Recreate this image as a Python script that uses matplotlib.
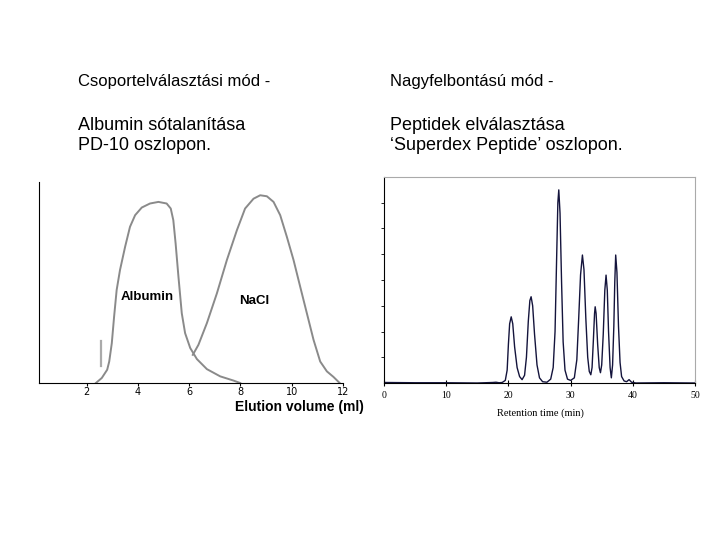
import matplotlib
matplotlib.use("Agg")
import matplotlib.pyplot as plt

# --- left panel: PD-10 desalting (elution volume, ml vs. relative signal)
albumin_x = [2.36, 2.59, 2.80, 2.88, 2.98, 3.07, 3.17, 3.30, 3.50, 3.69, 3.89,
             4.15, 4.47, 4.80, 5.12, 5.28, 5.38, 5.47, 5.58, 5.71, 5.84, 6.04,
             6.30, 6.69, 7.21, 7.73, 7.99]
albumin_y = [0.0, 2.5, 6.6, 10.7, 19.8, 33.0, 46.3, 56.2, 67.8, 77.7, 83.5,
             87.3, 89.3, 90.1, 89.3, 86.8, 81.0, 69.4, 52.9, 34.7, 24.8, 17.4,
             11.9, 6.9, 3.3, 1.2, 0.0]
nacl_x = [6.14, 6.36, 6.69, 7.08, 7.47, 7.86, 8.18, 8.51, 8.77, 9.03, 9.29,
          9.55, 9.81, 10.07, 10.33, 10.59, 10.85, 11.11, 11.37, 11.63, 11.87]
nacl_y = [14.0, 19.0, 29.8, 44.6, 61.2, 76.0, 86.8, 91.7, 93.4, 92.9, 90.1,
          83.5, 72.7, 61.2, 47.9, 34.7, 21.5, 10.7, 5.8, 3.0, 0.0]
mark_x = [2.55, 2.55]
mark_y = [8.3, 20.7]
left_ticks = [2, 4, 6, 8, 10, 12]

# --- right panel: Superdex Peptide (retention time, min vs. absorbance)
ret_time = [0.0, 5.0, 10.0, 15.0, 17.5, 18.0, 18.5, 19.0, 19.5, 19.8, 20.0,
            20.2, 20.45, 20.7, 21.0, 21.4, 21.8, 22.2, 22.6, 22.9, 23.2, 23.45,
            23.65, 23.9, 24.2, 24.6, 25.0, 25.5, 26.2, 26.8, 27.2, 27.5, 27.75,
            27.95, 28.1, 28.3, 28.55, 28.8, 29.1, 29.5, 30.0, 30.6, 31.0, 31.3,
            31.6, 31.9, 32.15, 32.45, 32.75, 33.0, 33.25, 33.45, 33.65, 33.85,
            33.95, 34.1, 34.35, 34.6, 34.8, 35.0, 35.25, 35.5, 35.7, 35.9, 36.1,
            36.35, 36.55, 36.75, 36.95, 37.1, 37.25, 37.45, 37.7, 37.95, 38.2,
            38.6, 39.0, 39.4, 39.8, 40.5, 45.0, 50.0]
signal = [0.02, 0.01, 0.01, 0.0, 0.02, 0.03, 0.01, 0.02, 0.1, 0.5, 1.5,
          2.3, 2.57, 2.3, 1.4, 0.6, 0.25, 0.13, 0.3, 1.0, 2.4, 3.2,
          3.35, 3.0, 1.9, 0.7, 0.2, 0.05, 0.03, 0.15, 0.6, 2.0, 4.8,
          7.0, 7.5, 6.6, 3.9, 1.6, 0.5, 0.15, 0.1, 0.2, 0.9, 2.5,
          4.2, 4.97, 4.4, 2.5, 1.0, 0.45, 0.32, 0.6, 1.6, 2.7,
          2.96, 2.7, 1.5, 0.6, 0.4, 0.7, 1.9, 3.6, 4.19, 3.6, 2.0,
          0.6, 0.2, 0.7, 2.2, 3.9, 4.97, 4.3, 2.2, 0.8, 0.25,
          0.08, 0.05, 0.13, 0.03, 0.0, 0.01, 0.0]
right_xticks = [0, 10, 20, 30, 40, 50]
right_yticks = [1, 2, 3, 4, 5, 6, 7]

fig = plt.figure(figsize=(7.2, 5.4), dpi=100)
sans = "Liberation Sans"
serif = "Liberation Serif"

# header texts
mode_fs = 12
desc_fs = 13
fig.text(78 / 720, 1 - 86 / 540, "Csoportelválasztási mód -", fontsize=mode_fs, family=sans)
fig.text(78 / 720, 1 - 129.5 / 540, "Albumin sótalanítása", fontsize=desc_fs, family=sans)
fig.text(78 / 720, 1 - 150 / 540, "PD-10 oszlopon.", fontsize=desc_fs, family=sans)
fig.text(390 / 720, 1 - 86 / 540, "Nagyfelbontású mód -", fontsize=mode_fs, family=sans)
fig.text(390 / 720, 1 - 129.5 / 540, "Peptidek elválasztása", fontsize=desc_fs, family=sans)
fig.text(390 / 720, 1 - 150 / 540, "\u2018Superdex Peptide\u2019 oszlopon.", fontsize=desc_fs, family=sans)

# left chart
ax1 = fig.add_axes([39 / 720, 1 - 383 / 540, 304 / 720, 201 / 540])
ax1.plot(albumin_x, albumin_y, color="#8a8a8a", lw=1.4)
ax1.plot(nacl_x, nacl_y, color="#8a8a8a", lw=1.4)
ax1.plot(mark_x, mark_y, color="#aaaaaa", lw=1.6)
ax1.set_xlim(0.14, 12)
ax1.set_ylim(0, 100)
ax1.spines["top"].set_visible(False)
ax1.spines["right"].set_visible(False)
ax1.set_yticks([])
ax1.set_xticks(left_ticks)
ax1.tick_params(axis="x", length=2, pad=1, labelsize=7)
ax1.text(4.37, 43, "Albumin", fontsize=9.5, fontweight="bold", family=sans,
         ha="center", va="center")
ax1.text(8.53, 40.8, "NaCl", fontsize=9.5, fontweight="bold", family=sans,
         ha="center", va="center")
fig.text(364 / 720, 1 - 411.5 / 540, "Elution volume (ml)", fontsize=10,
         fontweight="bold", family=sans, ha="right", va="baseline")

# right chart
ax2 = fig.add_axes([384 / 720, 1 - 383 / 540, 311 / 720, 206 / 540])
ax2.plot(ret_time, signal, color="#14143c", lw=1.0)
ax2.set_xlim(0, 50)
ax2.set_ylim(0, 8)
ax2.spines["top"].set_color("#aaaaaa")
ax2.spines["right"].set_color("#aaaaaa")
ax2.set_xticks(right_xticks)
ax2.set_xticklabels([str(t) for t in right_xticks], family=serif, fontsize=7)
ax2.set_yticks(right_yticks)
ax2.set_yticklabels([])
ax2.tick_params(axis="x", direction="inout", length=4, pad=4)
ax2.tick_params(axis="y", length=2.5, width=0.6)
fig.text(540 / 720, 1 - 413 / 540, "Retention time (min)", fontsize=7.5,
         family=serif, ha="center", va="center")

fig.savefig("out.png", dpi=100)
